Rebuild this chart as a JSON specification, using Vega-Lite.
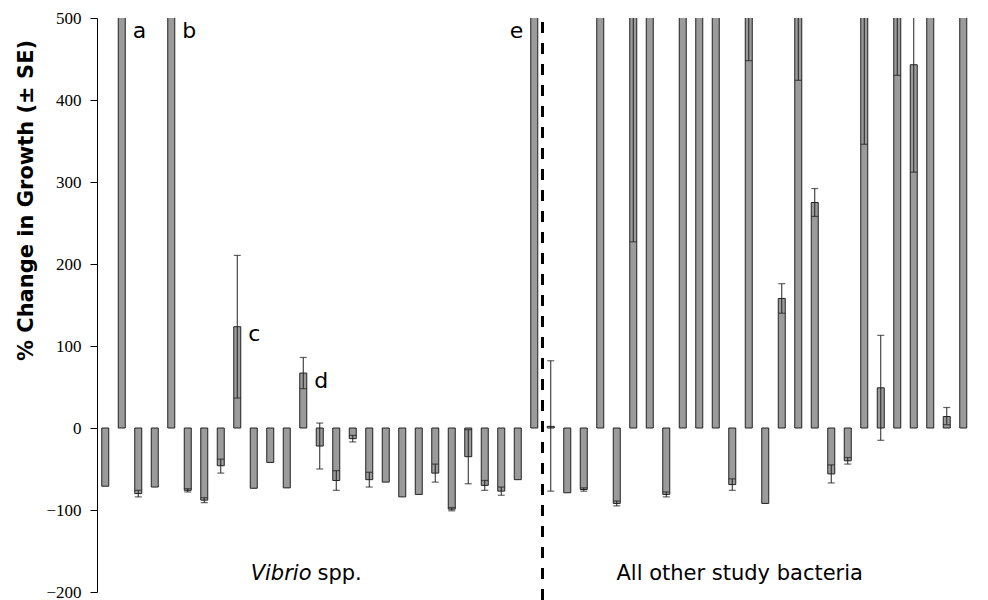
{
  "$schema": "https://vega.github.io/schema/vega-lite/v6.json",
  "autosize": "none",
  "width": 891,
  "height": 574,
  "padding": {"top": 18, "left": 97, "right": 0, "bottom": 8},
  "background": "white",
  "config": {"view": {"stroke": null}},
  "datasets": {
    "bars": [
      {"bar": 1, "group": "Vibrio", "value": -71},
      {"bar": 2, "group": "Vibrio", "value": 900},
      {"bar": 3, "group": "Vibrio", "value": -80, "lo": -84, "hi": -76},
      {"bar": 4, "group": "Vibrio", "value": -72},
      {"bar": 5, "group": "Vibrio", "value": 1100},
      {"bar": 6, "group": "Vibrio", "value": -76, "lo": -78, "hi": -74},
      {"bar": 7, "group": "Vibrio", "value": -88, "lo": -91, "hi": -85},
      {"bar": 8, "group": "Vibrio", "value": -46, "lo": -55, "hi": -38},
      {"bar": 9, "group": "Vibrio", "value": 123.5, "lo": 36.5, "hi": 210.5},
      {"bar": 10, "group": "Vibrio", "value": -73.5},
      {"bar": 11, "group": "Vibrio", "value": -42},
      {"bar": 12, "group": "Vibrio", "value": -73},
      {"bar": 13, "group": "Vibrio", "value": 67, "lo": 48, "hi": 86},
      {"bar": 14, "group": "Vibrio", "value": -22, "lo": -50, "hi": 6},
      {"bar": 15, "group": "Vibrio", "value": -64, "lo": -76, "hi": -52},
      {"bar": 16, "group": "Vibrio", "value": -13, "lo": -17, "hi": -9},
      {"bar": 17, "group": "Vibrio", "value": -63, "lo": -72, "hi": -54},
      {"bar": 18, "group": "Vibrio", "value": -66},
      {"bar": 19, "group": "Vibrio", "value": -84},
      {"bar": 20, "group": "Vibrio", "value": -81},
      {"bar": 21, "group": "Vibrio", "value": -55, "lo": -66, "hi": -44},
      {"bar": 22, "group": "Vibrio", "value": -99, "lo": -101, "hi": -97},
      {"bar": 23, "group": "Vibrio", "value": -35, "lo": -68, "hi": -2},
      {"bar": 24, "group": "Vibrio", "value": -70, "lo": -76, "hi": -64},
      {"bar": 25, "group": "Vibrio", "value": -77, "lo": -82, "hi": -72},
      {"bar": 26, "group": "Vibrio", "value": -63},
      {"bar": 27, "group": "Vibrio", "value": 800},
      {"bar": 28, "group": "Other", "value": 2, "lo": -77, "hi": 82},
      {"bar": 29, "group": "Other", "value": -79},
      {"bar": 30, "group": "Other", "value": -75, "lo": -77, "hi": -73},
      {"bar": 31, "group": "Other", "value": 700},
      {"bar": 32, "group": "Other", "value": -92, "lo": -95, "hi": -89},
      {"bar": 33, "group": "Other", "value": 640, "lo": 227, "hi": 1053},
      {"bar": 34, "group": "Other", "value": 750},
      {"bar": 35, "group": "Other", "value": -81, "lo": -84, "hi": -78},
      {"bar": 36, "group": "Other", "value": 820},
      {"bar": 37, "group": "Other", "value": 900},
      {"bar": 38, "group": "Other", "value": 760},
      {"bar": 39, "group": "Other", "value": -69, "lo": -76, "hi": -62},
      {"bar": 40, "group": "Other", "value": 620, "lo": 448, "hi": 792},
      {"bar": 41, "group": "Other", "value": -92},
      {"bar": 42, "group": "Other", "value": 158, "lo": 140, "hi": 176},
      {"bar": 43, "group": "Other", "value": 610, "lo": 424, "hi": 796},
      {"bar": 44, "group": "Other", "value": 275, "lo": 258, "hi": 292},
      {"bar": 45, "group": "Other", "value": -56, "lo": -67, "hi": -45},
      {"bar": 46, "group": "Other", "value": -40, "lo": -44, "hi": -36},
      {"bar": 47, "group": "Other", "value": 690, "lo": 346, "hi": 1034},
      {"bar": 48, "group": "Other", "value": 49, "lo": -15, "hi": 113},
      {"bar": 49, "group": "Other", "value": 560, "lo": 430, "hi": 690},
      {"bar": 50, "group": "Other", "value": 443, "lo": 312, "hi": 574},
      {"bar": 51, "group": "Other", "value": 780},
      {"bar": 52, "group": "Other", "value": 14, "lo": 4, "hi": 25},
      {"bar": 53, "group": "Other", "value": 850}
    ],
    "letters": [
      {"bar": 2, "y": 476, "label": "a", "side": "right"},
      {"bar": 5, "y": 476, "label": "b", "side": "right"},
      {"bar": 9, "y": 106, "label": "c", "side": "right"},
      {"bar": 13, "y": 49, "label": "d", "side": "right"},
      {"bar": 27, "y": 476, "label": "e", "side": "left"}
    ],
    "divider": [{"x": 27.5, "top": 495, "bottom": -212}]
  },
  "encoding": {
    "x": {"field": "bar", "type": "quantitative", "scale": {"domain": [0.5, 54.5], "nice": false, "zero": false, "padding": 0}, "axis": null}
  },
  "layer": [
    {
      "data": {"values": [{}]},
      "mark": {"type": "rule", "color": "#333333", "strokeWidth": 1},
      "encoding": {"x": {"datum": 0.5, "type": "quantitative"}, "x2": {"datum": 54.5}, "y": {"datum": 0, "type": "quantitative"}}
    },
    {
      "data": {"name": "bars"},
      "mark": {"type": "bar", "width": 7, "fill": "#9b9b9b", "stroke": "#222222", "strokeWidth": 1, "clip": true},
      "encoding": {
        "y": {
          "field": "value", "type": "quantitative",
          "scale": {"domain": [-200, 500], "nice": false, "zero": false, "padding": 0},
          "axis": {
            "values": [-200, -100, 0, 100, 200, 300, 400, 500],
            "grid": false,
            "domainColor": "#000000",
            "domainWidth": 1,
            "tickColor": "#000000",
            "tickSize": 7,
            "labelFont": "Liberation Serif",
            "labelFontSize": 17,
            "labelColor": "#000000",
            "labelPadding": 9,
            "title": "% Change in Growth  (± SE)",
            "titleFont": "DejaVu Sans",
            "titleFontSize": 21,
            "titleFontWeight": "bold",
            "titleColor": "#000000",
            "titleAngle": -90,
            "titleAlign": "center",
            "titleBaseline": "middle",
            "titleX": -71,
            "titleY": 182
          }
        },
        "y2": {"datum": 0}
      }
    },
    {
      "data": {"name": "bars"},
      "mark": {"type": "rule", "color": "#222222", "strokeWidth": 1, "clip": true},
      "encoding": {"y": {"field": "lo", "type": "quantitative"}, "y2": {"field": "hi"}}
    },
    {
      "data": {"name": "bars"},
      "mark": {"type": "tick", "orient": "horizontal", "color": "#222222", "size": 7, "thickness": 1.2, "clip": true},
      "encoding": {"y": {"field": "lo", "type": "quantitative"}}
    },
    {
      "data": {"name": "bars"},
      "mark": {"type": "tick", "orient": "horizontal", "color": "#222222", "size": 7, "thickness": 1.2, "clip": true},
      "encoding": {"y": {"field": "hi", "type": "quantitative"}}
    },
    {
      "data": {"name": "divider"},
      "mark": {"type": "rule", "color": "#000000", "strokeWidth": 3, "strokeDash": [11, 10]},
      "encoding": {"x": {"field": "x", "type": "quantitative"}, "y": {"field": "top", "type": "quantitative"}, "y2": {"field": "bottom"}}
    },
    {
      "data": {"name": "letters"},
      "transform": [{"filter": "datum.side === 'right'"}],
      "mark": {"type": "text", "align": "left", "baseline": "alphabetic", "dx": 11, "font": "DejaVu Sans", "fontSize": 22, "color": "#000000"},
      "encoding": {"y": {"field": "y", "type": "quantitative"}, "text": {"field": "label"}}
    },
    {
      "data": {"name": "letters"},
      "transform": [{"filter": "datum.side === 'left'"}],
      "mark": {"type": "text", "align": "right", "baseline": "alphabetic", "dx": -11, "font": "DejaVu Sans", "fontSize": 22, "color": "#000000"},
      "encoding": {"y": {"field": "y", "type": "quantitative"}, "text": {"field": "label"}}
    },
    {
      "data": {"values": [{"pos": 13.5, "y": -185, "label": "Vibrio"}]},
      "mark": {"type": "text", "align": "right", "baseline": "alphabetic", "font": "DejaVu Sans", "fontSize": 21, "fontStyle": "italic", "color": "#000000"},
      "encoding": {"x": {"field": "pos", "type": "quantitative"}, "y": {"field": "y", "type": "quantitative"}, "text": {"field": "label"}}
    },
    {
      "data": {"values": [{"pos": 13.5, "y": -185, "label": "spp."}]},
      "mark": {"type": "text", "align": "left", "baseline": "alphabetic", "dx": 6, "font": "DejaVu Sans", "fontSize": 21, "color": "#000000"},
      "encoding": {"x": {"field": "pos", "type": "quantitative"}, "y": {"field": "y", "type": "quantitative"}, "text": {"field": "label"}}
    },
    {
      "data": {"values": [{"pos": 39.45, "y": -185, "label": "All other study bacteria"}]},
      "mark": {"type": "text", "align": "center", "baseline": "alphabetic", "font": "DejaVu Sans", "fontSize": 21, "color": "#000000"},
      "encoding": {"x": {"field": "pos", "type": "quantitative"}, "y": {"field": "y", "type": "quantitative"}, "text": {"field": "label"}}
    }
  ]
}
